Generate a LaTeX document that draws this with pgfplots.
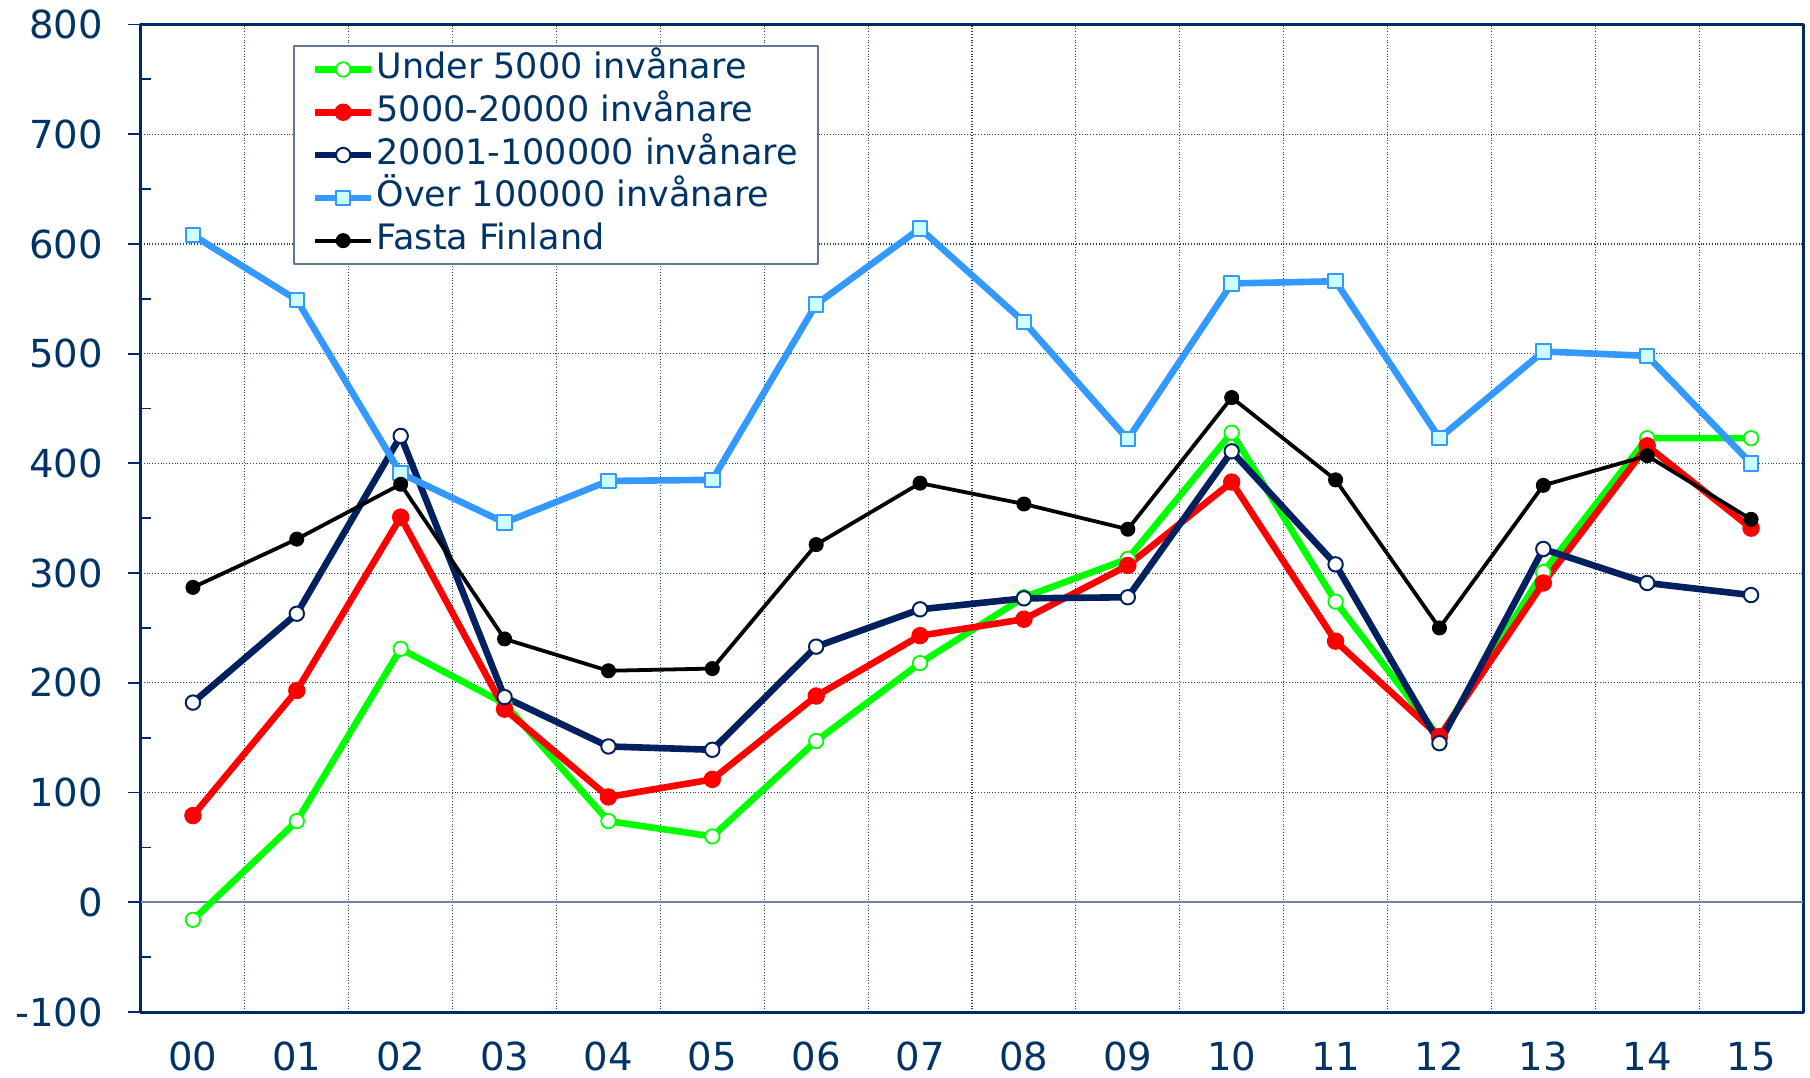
\documentclass[border=0pt]{standalone}
\usepackage{fontspec}
\setmainfont{DejaVu Sans}
\usepackage{pgfplots}
\pgfplotsset{compat=1.18}
\definecolor{tcol}{RGB}{0,51,102}
\definecolor{cgreen}{RGB}{0,255,0}
\definecolor{cred}{RGB}{255,0,0}
\definecolor{cnavy}{RGB}{0,32,96}
\definecolor{cblue}{RGB}{51,153,255}
\definecolor{cfill}{RGB}{204,255,255}
\definecolor{axcol}{RGB}{0,40,100}
\definecolor{gridcol}{RGB}{30,60,110}
\definecolor{zerocol}{RGB}{110,130,160}
\begin{document}
\begin{tikzpicture}
\path[use as bounding box] (-70.5pt,-32.5pt) rectangle (834.5pt,506pt);
\begin{axis}[
  at={(0,0)}, anchor=south west,
  scale only axis, width=831pt, height=493.75pt,
  xmin=-0.5, xmax=15.5, ymin=-100, ymax=800,
  xtick={0,...,15},
  xticklabels={00,01,02,03,04,05,06,07,08,09,10,11,12,13,14,15},
  ytick={-100,0,...,800},
  minor ytick={-50,50,...,750},
  minor xtick={0.5,1.5,...,14.5},
  ymajorgrids, xminorgrids,
  major grid style={densely dotted, gridcol, line width=0.6pt},
  minor grid style={densely dotted, gridcol, line width=0.6pt},
  axis line style={axcol, line width=1.5pt},
  tick align=outside,
  ytick pos=left, xtick pos=bottom,
  xtick style={draw=none},
  minor x tick style={draw=none},
  ytick style={axcol, line width=0.9pt},
  major tick length=6.5pt,
  minor tick length=-5pt,
  /pgf/number format/assume math mode=true,
  tick label style={font=\fontsize{19.3}{23}\selectfont, text=tcol},
  x tick label style={yshift=-5pt},
  y tick label style={xshift=-9pt},
  extra y ticks={0}, extra y tick labels={},
  extra y tick style={grid=major, major grid style={solid, zerocol, line width=1.2pt}},
  legend style={at={(0.0915,0.979)}, anchor=north west, draw=gridcol!70, line width=0.8pt, fill=white,
    font=\fontsize{17.5}{21}\selectfont, inner xsep=9pt, inner ysep=1pt, row sep=0pt,
    nodes={text=tcol, text height=12.5pt, text depth=3.5pt, inner ysep=2.7pt, inner xsep=1pt}},
  legend cell align=left,
  legend image code/.code={\draw[mark repeat=2, mark phase=2] plot coordinates {(0pt,0pt) (14pt,0pt) (28pt,0pt)};},
  line join=round,
]
\addplot[cgreen, line width=3.3pt, mark=*, mark size=3.6pt, mark options={fill=white, draw=cgreen, line width=0.9pt}]
coordinates {(0,-16)(1,74)(2,231)(3,181)(4,74)(5,60)(6,147)(7,218)(8,278)(9,313)(10,428)(11,274)(12,150)(13,301)(14,423)(15,423)};
\addlegendentry{Under 5000 invånare}
\addplot[cred, line width=3.3pt, mark=*, mark size=4.1pt, mark options={fill=cred, draw=cred, line width=0.5pt}]
coordinates {(0,79)(1,193)(2,351)(3,176)(4,96)(5,112)(6,188)(7,243)(8,258)(9,307)(10,383)(11,238)(12,151)(13,291)(14,416)(15,341)};
\addlegendentry{5000-20000 invånare}
\addplot[cnavy, line width=3.3pt, mark=*, mark size=3.6pt, mark options={fill=white, draw=cnavy, line width=1pt}]
coordinates {(0,182)(1,263)(2,425)(3,187)(4,142)(5,139)(6,233)(7,267)(8,277)(9,278)(10,411)(11,308)(12,145)(13,322)(14,291)(15,280)};
\addlegendentry{20001-100000 invånare}
\addplot[cblue, line width=3.3pt, mark=square*, mark size=3.6pt, mark options={fill=cfill, draw=cblue, line width=1pt}]
coordinates {(0,608)(1,549)(2,391)(3,346)(4,384)(5,385)(6,545)(7,614)(8,529)(9,422)(10,564)(11,566)(12,423)(13,502)(14,498)(15,400)};
\addlegendentry{Över 100000 invånare}
\addplot[black, line width=1.9pt, mark=*, mark size=3.5pt, mark options={fill=black, draw=black, line width=0.5pt}]
coordinates {(0,287)(1,331)(2,381)(3,240)(4,211)(5,213)(6,326)(7,382)(8,363)(9,340)(10,460)(11,385)(12,250)(13,380)(14,407)(15,349)};
\addlegendentry{Fasta Finland}
\end{axis}
\end{tikzpicture}
\end{document}
